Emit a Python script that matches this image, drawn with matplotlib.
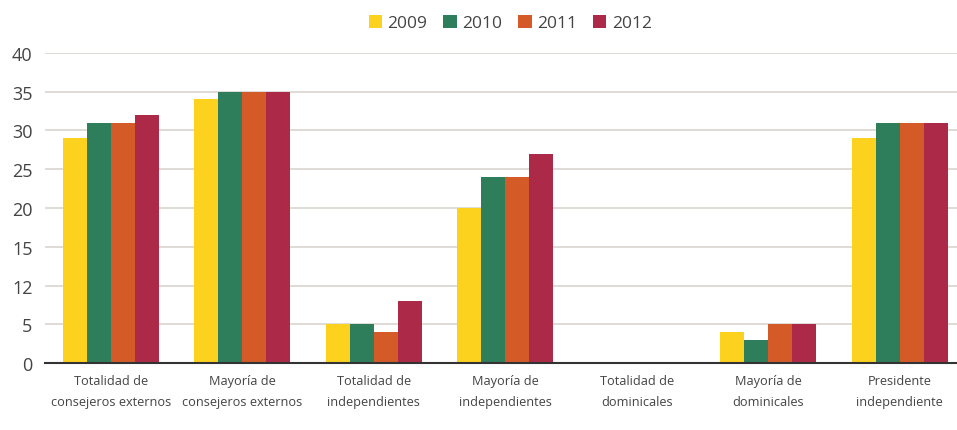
import matplotlib
matplotlib.use('Agg')
import matplotlib.pyplot as plt
import numpy as np

plt.rcParams['font.family'] = ['Open Sans', 'DejaVu Sans']

categorias = ['Totalidad de\nconsejeros externos', 'Mayoría de\nconsejeros externos',
              'Totalidad de\nindependientes', 'Mayoría de\nindependientes',
              'Totalidad de\ndominicales', 'Mayoría de\ndominicales',
              'Presidente\nindependiente']
años = ['2009', '2010', '2011', '2012']
v2009 = [29, 34, 5, 20, 0, 4, 29]
v2010 = [31, 35, 5, 24, 0, 3, 31]
v2011 = [31, 35, 4, 24, 0, 5, 31]
v2012 = [32, 35, 8, 27, 0, 5, 31]
ytick_vals = [0, 5, 10, 15, 20, 25, 30, 35, 40]
ytick_labels = ['0', '5', '12', '15', '20', '25', '30', '35', '40']

colores = ['#FDD21F', '#2E7D5B', '#D45A27', '#AC2A47']

fig = plt.figure(figsize=(9.57, 4.31), dpi=100)
ax = fig.add_axes([0.047, 0.155, 0.962, 0.72])

x = np.arange(len(categorias))
w = 0.183
series = [v2009, v2010, v2011, v2012]
for i, (serie, año) in enumerate(zip(series, años)):
    ax.bar(x + (i - 1.5) * w, serie, w, color=colores[i], label=año, zorder=3)

ax.set_xlim(-0.5, len(categorias) - 0.5)
ax.set_ylim(0, 40)
ax.set_yticks(ytick_vals)
ax.set_yticklabels(ytick_labels, fontsize=13, color='#444444')
ax.set_xticks(x)
ax.set_xticklabels(categorias, fontsize=9.2, color='#444444', linespacing=1.75)
ax.tick_params(axis='both', length=0)
ax.tick_params(axis='y', pad=9)
ax.tick_params(axis='x', pad=8)
ax.yaxis.grid(True, color='#D9D4D0', linewidth=1.2, zorder=0)
for s in ['top', 'right', 'left']:
    ax.spines[s].set_visible(False)
ax.spines['bottom'].set_color('#333333')
ax.spines['bottom'].set_linewidth(1.5)
ax.spines['bottom'].set_zorder(4)

fig.legend(loc='upper center', bbox_to_anchor=(0.533, 1.0), ncol=4, frameon=False,
           fontsize=12.5, handlelength=0.8, handleheight=0.8, handletextpad=0.3,
           columnspacing=0.9, labelcolor='#444444')

plt.savefig('out.png', dpi=100)
